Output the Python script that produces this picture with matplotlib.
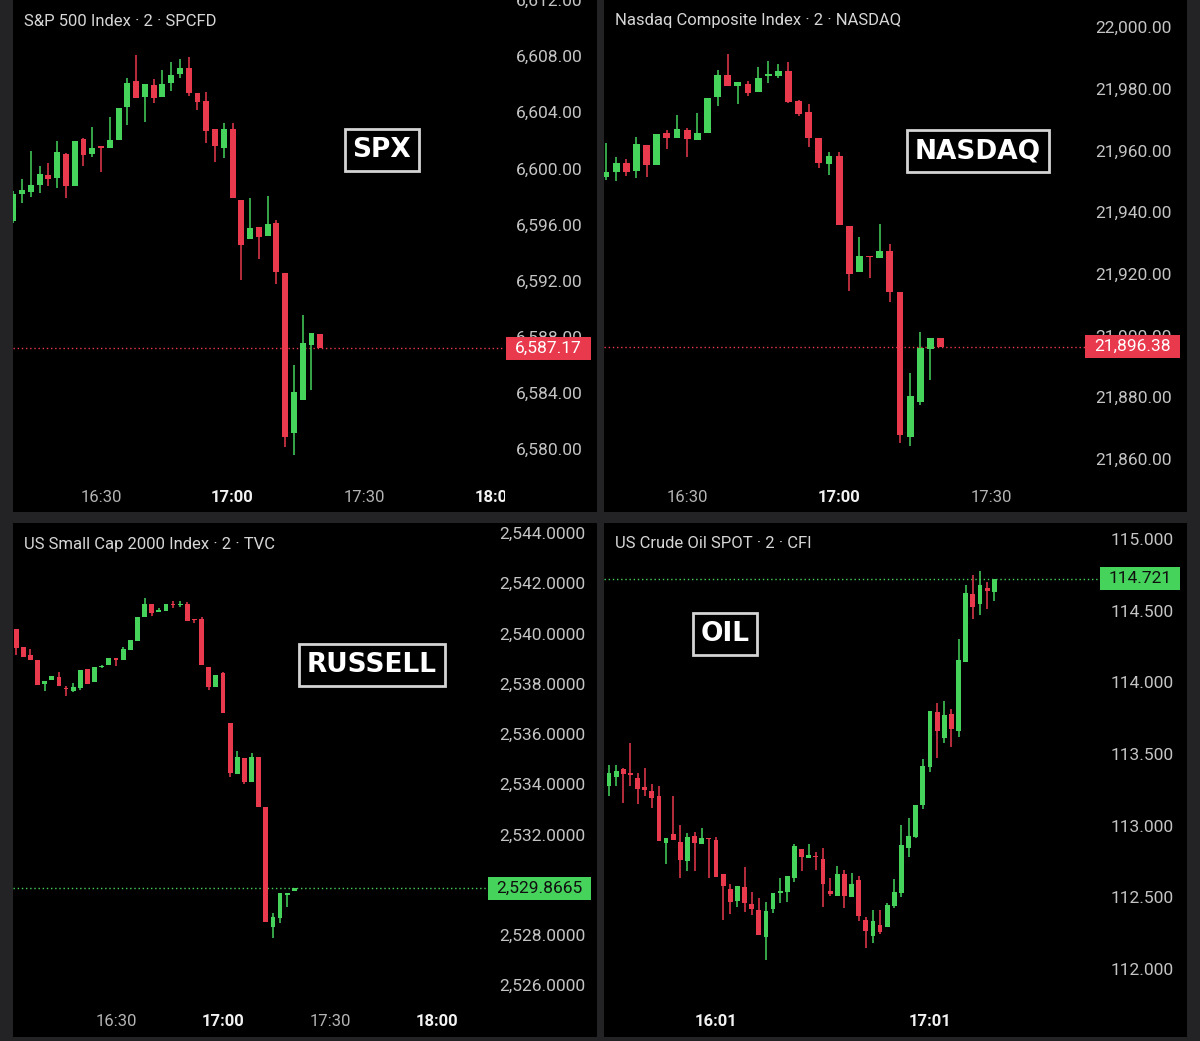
import matplotlib
matplotlib.use('Agg')
import matplotlib.pyplot as plt
from matplotlib.patches import Rectangle
from matplotlib.transforms import Bbox, TransformedBbox, blended_transform_factory

plt.rcParams['font.family'] = ['Roboto', 'DejaVu Sans']

W, H = 1200, 1041
BG = '#232325'
UP = '#46d35c'
DOWN = '#e8394d'

# ---------------- data: 2 minute candles ----------------
spx_title = 'S&P 500 Index · 2 · SPCFD'
spx_start = '16:10'
spx_open = [6596.27, 6598.21, 6598.33, 6598.81, 6599.54, 6599.35, 6601.06, 6598.76, 6602.08, 6601.01,
            6601.60, 6601.44, 6602.03, 6604.38, 6606.22, 6605.11, 6605.92, 6605.11, 6606.06, 6606.70,
            6607.13, 6605.39, 6604.80, 6602.79, 6601.48, 6602.83, 6597.77, 6594.99, 6595.80, 6595.16,
            6596.11, 6592.56, 6581.11, 6583.48, 6587.44, 6588.17]
spx_high = [6598.41, 6599.24, 6601.25, 6600.18, 6600.37, 6601.96, 6601.10, 6601.96, 6602.19, 6602.98,
            6601.60, 6603.66, 6604.28, 6606.46, 6608.07, 6605.99, 6606.34, 6606.98, 6607.59, 6607.77,
            6607.95, 6605.39, 6605.44, 6602.79, 6603.26, 6603.26, 6597.77, 6597.86, 6595.80, 6598.05,
            6596.34, 6592.56, 6585.97, 6589.52, 6588.29, 6588.17]
spx_low = [6596.08, 6597.53, 6597.93, 6598.24, 6598.76, 6598.57, 6597.86, 6598.76, 6600.18, 6600.84,
           6599.71, 6601.44, 6602.03, 6603.10, 6605.04, 6603.33, 6604.64, 6605.11, 6605.51, 6606.46,
           6605.16, 6604.16, 6601.84, 6600.49, 6600.77, 6597.86, 6592.08, 6594.99, 6593.55, 6595.16,
           6591.77, 6580.16, 6579.57, 6583.48, 6584.24, 6587.17]
spx_close = [6598.17, 6598.45, 6598.81, 6599.59, 6599.21, 6601.18, 6598.76, 6601.96, 6600.94, 6601.48,
             6601.44, 6602.05, 6604.28, 6606.10, 6605.04, 6605.99, 6604.99, 6606.03, 6606.65, 6607.13,
             6605.35, 6604.75, 6602.67, 6601.60, 6602.79, 6597.86, 6594.57, 6595.73, 6595.09, 6596.04,
             6592.60, 6580.87, 6584.03, 6587.55, 6588.29, 6587.17]
spx_yticks = [6580, 6584, 6588, 6592, 6596, 6600, 6604, 6608, 6612]
spx_xticks = ['16:30', '17:00', '17:30', '18:00']

ndx_title = 'Nasdaq Composite Index · 2 · NASDAQ'
ndx_start = '16:14'
ndx_open = [21951.30, 21952.92, 21955.83, 21953.43, 21961.76, 21955.28, 21965.55, 21963.93, 21966.62, 21963.38,
            21965.55, 21977.22, 21984.45, 21980.88, 21981.43, 21979.03, 21984.12, 21984.22, 21985.84, 21976.12,
            21972.55, 21963.93, 21955.61, 21958.20, 21935.51, 21920.51, 21925.89, 21925.05, 21927.51, 21914.03,
            21867.24, 21878.39, 21895.56, 21899.32]
ndx_high = [21962.31, 21957.78, 21957.23, 21964.45, 21961.76, 21965.23, 21966.62, 21971.48, 21967.17, 21972.03,
            21976.90, 21986.07, 21991.25, 21982.27, 21982.50, 21986.94, 21989.08, 21987.91, 21988.56, 21976.35,
            21975.05, 21963.93, 21959.59, 21959.40, 21935.51, 21931.85, 21925.89, 21936.16, 21929.68, 21914.03,
            21887.98, 21901.07, 21899.32, 21899.32]
ndx_low = [21950.42, 21950.19, 21951.81, 21950.97, 21951.49, 21955.28, 21960.37, 21963.93, 21957.78, 21963.38,
           21965.55, 21974.40, 21980.88, 21975.05, 21977.64, 21979.03, 21981.76, 21983.38, 21975.28, 21971.16,
           21961.21, 21954.41, 21952.04, 21935.84, 21914.45, 21920.51, 21918.57, 21925.05, 21910.98, 21865.10,
           21864.23, 21877.51, 21885.61, 21896.38]
ndx_close = [21952.92, 21955.83, 21953.11, 21962.09, 21955.28, 21965.23, 21963.93, 21966.85, 21963.61, 21965.55,
             21976.90, 21984.45, 21980.88, 21982.27, 21978.52, 21983.57, 21984.54, 21985.84, 21975.79, 21971.81,
             21963.93, 21955.83, 21958.20, 21935.84, 21919.96, 21925.79, 21925.37, 21927.51, 21914.03, 21867.79,
             21880.43, 21895.88, 21899.32, 21896.38]
ndx_yticks = [21860, 21880, 21900, 21920, 21940, 21960, 21980, 22000]
ndx_xticks = ['16:30', '17:00', '17:30']

rut_title = 'US Small Cap 2000 Index · 2 · TVC'
rut_start = '16:02'
rut_open = [2540.17, 2539.45, 2539.14, 2538.95, 2537.98, 2538.15, 2538.26, 2537.82, 2537.71, 2537.82,
            2538.58, 2538.06, 2538.66, 2538.75, 2539.00, 2538.95, 2539.34, 2539.70, 2540.67, 2541.16,
            2540.86, 2540.90, 2541.17, 2541.13, 2541.17, 2540.57, 2540.57, 2538.68, 2537.86, 2538.42,
            2536.43, 2534.41, 2535.03, 2534.10, 2535.07, 2533.11, 2528.33, 2528.67, 2529.59, 2529.76]
rut_high = [2540.17, 2539.45, 2539.37, 2538.95, 2538.11, 2538.32, 2538.46, 2537.91, 2538.02, 2538.55,
            2538.58, 2538.66, 2538.75, 2539.04, 2539.00, 2539.48, 2539.74, 2540.67, 2541.40, 2541.16,
            2541.00, 2541.16, 2541.29, 2541.29, 2541.27, 2540.57, 2540.65, 2538.68, 2538.35, 2538.48,
            2536.43, 2535.32, 2535.03, 2535.23, 2535.07, 2533.11, 2528.86, 2529.66, 2529.68, 2529.87]
rut_low = [2539.14, 2539.05, 2538.95, 2537.95, 2537.71, 2538.15, 2537.91, 2537.52, 2537.68, 2537.75,
           2537.99, 2538.06, 2538.63, 2538.75, 2538.71, 2538.95, 2539.34, 2539.70, 2540.67, 2540.70,
           2540.86, 2540.90, 2541.00, 2541.07, 2540.51, 2540.43, 2538.75, 2537.75, 2537.86, 2536.85,
           2534.30, 2534.41, 2534.01, 2534.10, 2533.08, 2528.53, 2527.88, 2528.47, 2529.13, 2529.76]
rut_close = [2539.44, 2539.05, 2538.95, 2537.95, 2538.11, 2538.32, 2537.91, 2537.78, 2537.86, 2538.55,
             2537.99, 2538.66, 2538.71, 2539.04, 2538.95, 2539.38, 2539.74, 2540.67, 2541.17, 2540.80,
             2540.90, 2541.16, 2541.12, 2541.17, 2540.51, 2540.53, 2538.75, 2537.86, 2538.35, 2536.85,
             2534.44, 2535.07, 2534.10, 2535.07, 2533.08, 2528.53, 2528.73, 2529.66, 2529.68, 2529.8665]
rut_yticks = [2526, 2528, 2530, 2532, 2534, 2536, 2538, 2540, 2542, 2544]
rut_xticks = ['16:30', '17:00', '17:30', '18:00']

oil_title = 'US Crude Oil SPOT · 2 · CFI'
oil_start = '15:29'
oil_open = [113.121, 113.277, 113.342, 113.393, 113.358, 113.330, 113.272, 113.242, 113.207, 112.877,
            112.940, 112.884, 112.756, 112.928, 112.870, 112.912, 112.900, 112.661, 112.558, 112.474,
            112.574, 112.453, 112.412, 112.225, 112.416, 112.528, 112.535, 112.633, 112.835, 112.772,
            112.788, 112.765, 112.546, 112.509, 112.663, 112.500, 112.621, 112.342, 112.230, 112.307,
            112.295, 112.439, 112.528, 112.842, 112.919, 113.144, 113.407, 113.791, 113.614, 113.779,
            113.663, 114.140, 114.614, 114.544, 114.656, 114.628]
oil_high = [113.284, 113.423, 113.423, 113.400, 113.575, 113.365, 113.400, 113.289, 113.277, 112.916,
            113.207, 113.005, 112.951, 112.958, 112.986, 112.912, 112.923, 112.661, 112.591, 112.581,
            112.714, 112.539, 112.493, 112.470, 112.532, 112.633, 112.649, 112.870, 112.835, 112.870,
            112.818, 112.842, 112.633, 112.719, 112.691, 112.668, 112.651, 112.361, 112.412, 112.412,
            112.458, 112.626, 113.005, 113.051, 113.144, 113.465, 113.800, 113.858, 113.870, 113.812,
            114.300, 114.679, 114.749, 114.779, 114.702, 114.721]
oil_low = [113.121, 113.207, 113.277, 113.156, 113.277, 113.151, 113.207, 113.121, 112.895, 112.730,
           112.900, 112.633, 112.684, 112.684, 112.870, 112.633, 112.644, 112.342, 112.384, 112.435,
           112.400, 112.377, 112.237, 112.063, 112.393, 112.462, 112.470, 112.609, 112.686, 112.772,
           112.691, 112.430, 112.511, 112.509, 112.423, 112.500, 112.335, 112.144, 112.179, 112.244,
           112.295, 112.423, 112.504, 112.783, 112.912, 113.114, 113.376, 113.470, 113.575, 113.551,
           113.621, 114.140, 114.442, 114.470, 114.510, 114.567]
oil_close = [113.284, 113.365, 113.383, 113.358, 113.353, 113.256, 113.249, 113.195, 112.895, 112.916,
             112.900, 112.760, 112.923, 112.877, 112.912, 112.905, 112.644, 112.579, 112.465, 112.581,
             112.458, 112.416, 112.237, 112.407, 112.532, 112.546, 112.649, 112.860, 112.779, 112.795,
             112.779, 112.593, 112.523, 112.661, 112.511, 112.591, 112.370, 112.267, 112.337, 112.260,
             112.446, 112.535, 112.865, 112.930, 113.144, 113.416, 113.800, 113.663, 113.772, 113.672,
             114.156, 114.621, 114.528, 114.679, 114.639, 114.721]
oil_yticks = [112.0, 112.5, 113.0, 113.5, 114.0, 114.5, 115.0]
oil_xticks = ['16:01', '17:01']


def minutes(hhmm):
    hh, mm = hhmm.split(':')
    return int(hh) * 60 + int(mm)


def px_rect(l, t, r, b):
    return [l / W, 1 - b / H, (r - l) / W, (b - t) / H]


def draw_panel(fig, panel, plot, title, tag, tag_xy, start, o, hi, lo, c,
               xlim, ylim, yticks, yfmt, label_x, xticks, badge, badge_fg):
    fig.add_artist(Rectangle(px_rect(*panel)[:2], *px_rect(*panel)[2:],
                             transform=fig.transFigure, fc='black', ec='none', zorder=0))
    ax = fig.add_axes(px_rect(*plot))
    ax.set_facecolor('none')
    for s in ax.spines.values():
        s.set_visible(False)
    ax.set_xlim(*xlim)
    ax.set_ylim(*ylim)
    plot_w = plot[2] - plot[0]
    plot_h = plot[3] - plot[1]
    ppu = plot_h / (ylim[1] - ylim[0])

    # candles
    t0 = minutes(start)
    t = [t0 + 2 * i for i in range(len(o))]
    cols = [UP if ci >= oi else DOWN for oi, ci in zip(o, c)]
    ax.vlines(t, lo, hi, colors=cols, lw=1.1, zorder=2)
    bottoms = [min(oi, ci) for oi, ci in zip(o, c)]
    heights = [max(abs(ci - oi), 1.6 / ppu) for oi, ci in zip(o, c)]
    ax.bar(t, heights, bottom=bottoms, width=1.35, color=cols, lw=0, zorder=3)

    # price scale on the right
    ax.yaxis.tick_right()
    ax.set_yticks(yticks)
    ax.set_yticklabels([yfmt.format(v) for v in yticks])
    ax.tick_params(axis='y', length=0, pad=(label_x - plot[2]) * 0.72,
                   labelsize=12.5, labelcolor='#c4c4c4')
    for lbl in ax.get_yticklabels():
        lbl.set_horizontalalignment('right')
    ax.set_xticks([])

    # time labels (clipped at the price scale)
    clip = TransformedBbox(Bbox.from_extents(0, -0.2, 1, 1), ax.transAxes)
    tr = blended_transform_factory(ax.transData, ax.transAxes)
    for lab in xticks:
        bold = lab in ('17:00', '18:00', '16:01', '17:01')
        txt = ax.text(minutes(lab), -16 / plot_h, lab, transform=tr, ha='center', va='center',
                      fontsize=12, fontweight='bold' if bold else 'normal',
                      color='#f2f2f2' if bold else '#b4b4b4', clip_on=True)
        txt.set_clip_box(clip)

    # last price line and badge
    last = c[-1]
    ax.axhline(last, color=cols[-1], lw=1.0, ls=(0, (1, 2)), zorder=1)
    trb = blended_transform_factory(ax.transAxes, ax.transData)
    bx0 = (badge[0] - plot[0]) / plot_w
    bx1 = (badge[1] - plot[0]) / plot_w
    half = 11.5 / ppu
    ax.add_patch(Rectangle((bx0, last - half), bx1 - bx0, 2 * half, transform=trb,
                           fc=cols[-1], ec='none', clip_on=False, zorder=6))
    ax.text((bx0 + bx1) / 2, last, yfmt.format(last), transform=trb, ha='center', va='center',
            fontsize=12.5, color=badge_fg, zorder=7, clip_on=False)

    # title and tag
    fig.text((panel[0] + 11) / W, 1 - (panel[1] + 21) / H, title, ha='left', va='center',
             fontsize=12, color='#d6d6d6')
    fig.text(tag_xy[0] / W, 1 - tag_xy[1] / H, tag, ha='center', va='center',
             fontsize=19, fontweight='bold', color='white', family='DejaVu Sans',
             bbox=dict(boxstyle='square,pad=0.3', fc='black', ec='#d4d4d4', lw=2))
    return ax


fig = plt.figure(figsize=(W / 100, H / 100), dpi=100, facecolor=BG)

draw_panel(fig, (13, 0, 597, 512), (13, 0, 505, 482), spx_title, 'SPX', (382, 150),
           spx_start, spx_open, spx_high, spx_low, spx_close,
           (969.93, 1082.13), (6577.65, 6611.91), spx_yticks, '{:,.2f}', 583,
           spx_xticks, (506, 591), 'white')

draw_panel(fig, (604, 0, 1187, 512), (604, 0, 1085, 482), ndx_title, 'NASDAQ', (978, 151),
           ndx_start, ndx_open, ndx_high, ndx_low, ndx_close,
           (973.6, 1068.5), (21852.56, 22008.75), ndx_yticks, '{:,.2f}', 1172,
           ndx_xticks, (1085, 1180), 'white')

draw_panel(fig, (13, 523, 597, 1037), (13, 523, 488, 1005), rut_title, 'RUSSELL', (372, 665),
           rut_start, rut_open, rut_high, rut_low, rut_close,
           (961.12, 1094.3), (2525.214, 2544.398), rut_yticks, '{:,.4f}', 585,
           rut_xticks, (488, 591), '#101010')

draw_panel(fig, (604, 523, 1187, 1037), (604, 523, 1100, 1005), oil_title, 'OIL', (725, 634),
           oil_start, oil_open, oil_high, oil_low, oil_close,
           (929.6, 1068.65), (111.749, 115.1116), oil_yticks, '{:,.3f}', 1174,
           oil_xticks, (1100, 1180), '#101010')

fig.savefig('out.png', dpi=100, facecolor=BG)
